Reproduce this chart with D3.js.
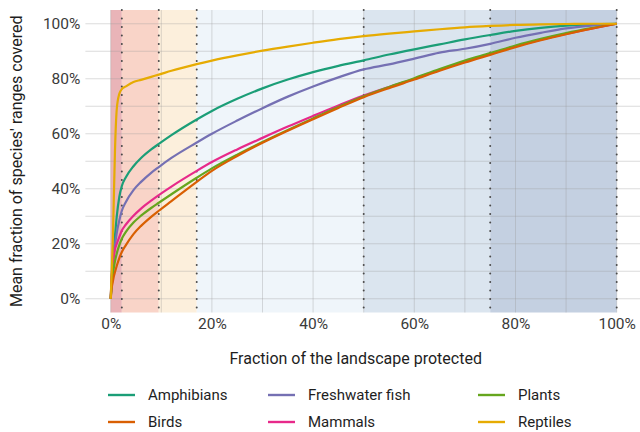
<!DOCTYPE html>
<html>
<head>
<meta charset="utf-8">
<script src="https://cdn.jsdelivr.net/npm/d3@7"></script>
<style>
  html, body { margin: 0; padding: 0; background: #fff; }
  svg { display: block; font-family: Roboto, "Noto Sans", sans-serif; }
</style>
</head>
<body>
<svg id="chart" width="640" height="432"></svg>
<script>
// Fraction of landscape protected (shared x grid for every series)
const protectedFraction = [0, 0.002, 0.004, 0.006, 0.0085, 0.012, 0.017, 0.022, 0.03, 0.045, 0.06, 0.08, 0.095, 0.12, 0.17, 0.2, 0.25, 0.3, 0.35, 0.4, 0.45, 0.5, 0.55, 0.6, 0.65, 0.7, 0.75, 0.8, 0.85, 0.9, 0.95, 1];

// Mean fraction of species' ranges covered, per taxon
const amphibians = [0, 0.08, 0.14, 0.18, 0.23, 0.30, 0.37, 0.41, 0.442, 0.482, 0.512, 0.543, 0.563, 0.595, 0.652, 0.683, 0.727, 0.765, 0.797, 0.824, 0.847, 0.867, 0.888, 0.907, 0.925, 0.943, 0.959, 0.974, 0.985, 0.993, 0.998, 1];
const birds = [0, 0.04, 0.06, 0.08, 0.097, 0.12, 0.148, 0.17, 0.195, 0.235, 0.265, 0.298, 0.32, 0.355, 0.425, 0.465, 0.519, 0.567, 0.611, 0.653, 0.694, 0.733, 0.766, 0.797, 0.829, 0.859, 0.887, 0.915, 0.94, 0.962, 0.982, 1];
const freshwaterFish = [0, 0.07, 0.12, 0.155, 0.195, 0.24, 0.285, 0.32, 0.352, 0.395, 0.425, 0.458, 0.479, 0.512, 0.568, 0.6, 0.648, 0.693, 0.735, 0.772, 0.805, 0.834, 0.852, 0.873, 0.895, 0.909, 0.927, 0.949, 0.967, 0.983, 0.993, 1];
const mammals = [0, 0.08, 0.125, 0.155, 0.18, 0.2, 0.225, 0.248, 0.27, 0.302, 0.328, 0.357, 0.377, 0.408, 0.465, 0.497, 0.543, 0.585, 0.626, 0.665, 0.703, 0.739, 0.77, 0.80, 0.832, 0.863, 0.89, 0.918, 0.942, 0.963, 0.982, 1];
const plants = [0, 0.05, 0.085, 0.11, 0.137, 0.165, 0.195, 0.218, 0.243, 0.277, 0.302, 0.33, 0.349, 0.38, 0.44, 0.474, 0.524, 0.57, 0.614, 0.656, 0.697, 0.736, 0.77, 0.802, 0.835, 0.866, 0.893, 0.921, 0.945, 0.966, 0.984, 1];
const reptiles = [0, 0.10, 0.20, 0.35, 0.54, 0.69, 0.745, 0.762, 0.772, 0.788, 0.796, 0.807, 0.815, 0.829, 0.853, 0.866, 0.885, 0.902, 0.917, 0.931, 0.944, 0.955, 0.964, 0.972, 0.98, 0.987, 0.992, 0.996, 0.998, 0.999, 1, 1];

const taxa = ["Amphibians", "Birds", "Freshwater fish", "Mammals", "Plants", "Reptiles"];
const taxonValues = [amphibians, birds, freshwaterFish, mammals, plants, reptiles];
const taxonColors = ["#1b9e77", "#d95f02", "#7570b3", "#e7298a", "#66a61e", "#e6ab02"];

// Protection threshold bands and their fills
const bandEdges = [0, 0.022, 0.095, 0.17, 0.5, 0.75, 1];
const bandFills = ["#e9b4b8", "#f9d4c8", "#fcefdc", "#eff5fa", "#dbe5ef", "#c4d0e1"];

const percentTicks = [0, 0.2, 0.4, 0.6, 0.8, 1];
const gridTicks = d3.range(0, 1.0001, 0.1);

const svg = d3.select("#chart");
const panel = { left: 85.4, right: 642, top: 10, bottom: 312.5 };

const x = d3.scaleLinear().domain([-0.05, 1.05]).range([panel.left, panel.right]);
const y = d3.scaleLinear().domain([-0.05, 1.05]).range([panel.bottom, panel.top]);

const pct = d3.format(".0%");

// bands
svg.append("g").selectAll("rect")
  .data(bandFills)
  .join("rect")
  .attr("x", (d, i) => x(bandEdges[i]))
  .attr("width", (d, i) => x(bandEdges[i + 1]) - x(bandEdges[i]))
  .attr("y", panel.top)
  .attr("height", panel.bottom - panel.top)
  .attr("fill", d => d);

// gridlines
const grid = svg.append("g").attr("stroke", "#9a9a9a").attr("stroke-opacity", 0.35).attr("stroke-width", 1);
grid.selectAll("line.h").data(gridTicks).join("line").attr("class", "h")
  .attr("x1", panel.left).attr("x2", panel.right)
  .attr("y1", d => y(d)).attr("y2", d => y(d));
grid.selectAll("line.v").data(gridTicks).join("line").attr("class", "v")
  .attr("y1", panel.top).attr("y2", panel.bottom)
  .attr("x1", d => x(d)).attr("x2", d => x(d));

// dotted threshold lines
svg.append("g").selectAll("line")
  .data(bandEdges.slice(1))
  .join("line")
  .attr("x1", d => x(d)).attr("x2", d => x(d))
  .attr("y1", panel.top).attr("y2", panel.bottom)
  .attr("stroke", "#4a4a4a")
  .attr("stroke-width", 2)
  .attr("stroke-linecap", "round")
  .attr("stroke-dasharray", "0.1,8.4");

// curves
const line = d3.line()
  .x((d, i) => x(protectedFraction[i]))
  .y(d => y(d))
  .curve(d3.curveMonotoneX);

const drawOrder = [0, 2, 3, 4, 1, 5]; // amphibians, fish, mammals, plants, birds, reptiles
svg.append("g").selectAll("path")
  .data(drawOrder)
  .join("path")
  .attr("d", i => line(taxonValues[i]))
  .attr("fill", "none")
  .attr("stroke", i => taxonColors[i])
  .attr("stroke-width", 2.2)
  .attr("stroke-linejoin", "round");

// axes
const yAxis = svg.append("g")
  .attr("transform", `translate(${panel.left},0)`)
  .call(d3.axisLeft(y).tickValues(percentTicks).tickFormat(pct).tickSize(0).tickPadding(5));
yAxis.select(".domain").remove();
yAxis.selectAll("text").attr("font-size", 15.5).attr("fill", "#3a3a3a").attr("font-family", "Roboto");

const xAxis = svg.append("g")
  .attr("transform", `translate(0,${panel.bottom})`)
  .call(d3.axisBottom(x).tickValues(percentTicks).tickFormat(pct).tickSize(0).tickPadding(5));
xAxis.select(".domain").remove();
xAxis.selectAll("text").attr("font-size", 15.5).attr("fill", "#3a3a3a").attr("font-family", "Roboto");

// axis titles
svg.append("text")
  .attr("x", (panel.left + panel.right) / 2 - 8)
  .attr("y", 364)
  .attr("text-anchor", "middle")
  .attr("font-size", 16)
  .attr("fill", "#1e1e1e")
  .text("Fraction of the landscape protected");

svg.append("text")
  .attr("transform", `translate(22,${(panel.top + panel.bottom) / 2}) rotate(-90)`)
  .attr("text-anchor", "middle")
  .attr("font-size", 16)
  .attr("fill", "#1e1e1e")
  .text("Mean fraction of species' ranges covered");

// legend
const legendCols = [108, 268, 478];
const legendRows = [395, 422];
const legend = svg.append("g").selectAll("g")
  .data(taxa)
  .join("g")
  .attr("transform", (d, i) => `translate(${legendCols[Math.floor(i / 2)]},${legendRows[i % 2]})`);
legend.append("line")
  .attr("x1", 0).attr("x2", 27).attr("y1", 0).attr("y2", 0)
  .attr("stroke", (d, i) => taxonColors[i])
  .attr("stroke-width", 2.4);
legend.append("text")
  .attr("x", 40).attr("y", 0).attr("dy", "0.35em")
  .attr("font-size", 15)
  .attr("fill", "#1e1e1e")
  .text(d => d);
</script>
</body>
</html>
